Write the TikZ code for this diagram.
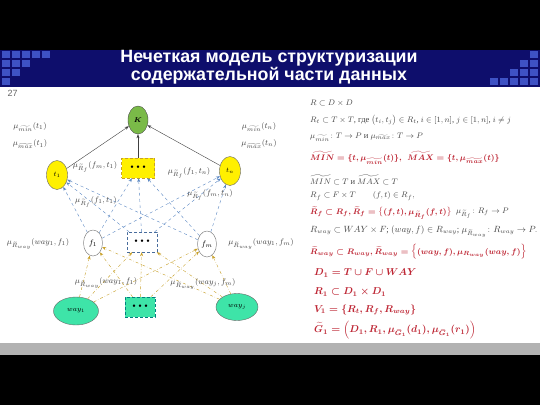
\documentclass[tikz,border=0pt]{standalone}
\usepackage{amsmath,amssymb}
\usepackage{fontspec}
\setmainfont{Liberation Serif}
\newfontfamily\titlefont{Liberation Sans}
\usetikzlibrary{shapes.geometric,arrows.meta}
\definecolor{bandblue}{RGB}{14,14,108}
\definecolor{sqblue}{RGB}{62,82,196}
\definecolor{graybar}{RGB}{178,178,178}
\definecolor{txtgray}{RGB}{70,70,70}
\definecolor{redf}{RGB}{190,38,52}
\definecolor{kgreen}{RGB}{122,186,72}
\definecolor{tyellow}{RGB}{255,240,0}
\definecolor{wteal}{RGB}{62,228,168}
\definecolor{lblue}{RGB}{90,135,195}
\definecolor{lgold}{RGB}{200,160,40}
\tikzset{
  sq/.style={fill=sqblue},
  kstyle/.style={ellipse,draw=black!70,fill=kgreen,minimum width=20,minimum height=28,inner sep=0pt,font=\fontsize{7}{8}\selectfont},
  tstyle/.style={ellipse,draw=black!60,fill=tyellow,minimum width=21,minimum height=29,inner sep=0pt,font=\fontsize{7}{8}\selectfont},
  fstyle/.style={ellipse,draw=black!55,fill=white,minimum width=19,minimum height=26,inner sep=0pt,font=\fontsize{8}{9}\selectfont},
  wstyle/.style={ellipse,draw=black!60,fill=wteal,minimum width=45,minimum height=28,inner sep=0pt,font=\fontsize{7}{8}\selectfont},
  ydots/.style={rectangle,draw=lgold,densely dashed,fill=tyellow,minimum width=33,minimum height=20,inner sep=0pt},
  wdots/.style={rectangle,draw=lblue!80!black,densely dashed,fill=white,minimum width=30,minimum height=20,inner sep=0pt},
  tdots/.style={rectangle,draw=teal,densely dashed,fill=wteal,minimum width=30,minimum height=20,inner sep=0pt},
  kline/.style={draw=black!75,-{Stealth[length=4pt,width=3pt]}},
  bline/.style={draw=lblue,dashed,thin,-{Stealth[length=4pt,width=3pt]}},
  gline/.style={draw=lgold,dash dot,thin,-{Stealth[length=4pt,width=3pt]}},
  elab/.style={text=txtgray,font=\fontsize{8}{9}\selectfont,inner sep=0pt},
  frm/.style={anchor=west,text=txtgray,font=\fontsize{8.5}{10}\selectfont,inner sep=0pt},
  frmr/.style={anchor=west,text=redf,font=\fontsize{8}{10}\selectfont\boldmath\bfseries,inner sep=0pt},
  frmR/.style={anchor=west,text=redf,font=\fontsize{10}{12}\selectfont\boldmath\bfseries,inner sep=0pt},
}
\newcommand{\dotsx}{\textbullet\ \textbullet\ \textbullet}
\newcommand{\tmin}{\widetilde{min}}
\newcommand{\tmax}{\widetilde{max}}
\begin{document}
\begin{tikzpicture}[x=1pt,y=-1pt]
\useasboundingbox (0,0) rectangle (540,405);
\fill[black] (0,0) rectangle (540,405);
\fill[white] (0,87) rectangle (540,343);
\fill[bandblue] (0,50) rectangle (540,87);
\fill[graybar] (0,343) rectangle (540,355);
% left squares
\foreach \i in {0,...,4} \fill[sq] (2+10*\i,51) rectangle +(8,7);
\foreach \i in {0,...,2} \fill[sq] (2+10*\i,60) rectangle +(8,7);
\foreach \i in {0,1} \fill[sq] (2+10*\i,69) rectangle +(8,7);
\fill[sq] (2,78) rectangle +(8,7);
% right squares
\fill[sq] (530,51) rectangle +(8,7);
\foreach \i in {0,1} \fill[sq] (530-10*\i,60) rectangle +(8,7);
\foreach \i in {0,...,2} \fill[sq] (530-10*\i,69) rectangle +(8,7);
\foreach \i in {0,...,4} \fill[sq] (530-10*\i,78) rectangle +(8,7);
% title
\node[text=white,font=\titlefont\bfseries\fontsize{17.8}{18.5}\selectfont,align=center] (title) at (269,67) {Нечеткая модель структуризации\\содержательной части данных};
\node[text=black!60,font=\titlefont\fontsize{9}{10}\selectfont,anchor=west] (pnum) at (4,93) {27};
% nodes
\node[kstyle] (K) at (138,120) {$\boldsymbol{K}$};
\node[tstyle] (t1) at (57,175) {$t_1$};
\node[ydots] (dy) at (138,168) {\dotsx};
\node[tstyle] (tn) at (230,171) {$t_n$};
\node[fstyle] (f1) at (93,243) {$f_1$};
\node[wdots] (dw) at (142,242) {\dotsx};
\node[fstyle] (fm) at (207,244) {$f_m$};
\node[wstyle] (w1) at (76,311) {$way_1$};
\node[tdots] (dt) at (140,307) {\dotsx};
\node[wstyle,minimum width=42,minimum height=27] (wj) at (237,307) {$way_j$};
% connectors
\draw[kline] (t1) -- (K);
\draw[kline] (dy) -- (K);
\draw[kline] (tn) -- (K);
\foreach \s in {f1,dw,fm}{
  \draw[bline] (\s) -- (t1);
  \draw[bline] (\s) -- (dy);
  \draw[bline] (\s) -- (tn);
}
\foreach \s in {w1,dt,wj}{
  \draw[gline] (\s) -- (f1);
  \draw[gline] (\s) -- (dw);
  \draw[gline] (\s) -- (fm);
}
% labels near t nodes
\node[elab] (l1) at (30,127) {$\mu_{\tmin}(t_1)$};
\node[elab] (l2) at (30,144) {$\mu_{\tmax}(t_1)$};
\node[elab] (l3) at (259,127) {$\mu_{\tmin}(t_n)$};
\node[elab] (l4) at (259,144) {$\mu_{\tmax}(t_n)$};
\node[elab] (e1) at (95,167) {$\mu_{\widetilde R_f}(f_m,t_1)$};
\node[elab] (e2) at (96,202) {$\mu_{\widetilde R_f}(f_1,t_1)$};
\node[elab] (e3) at (189,173) {$\mu_{\widetilde R_f}(f_1,t_n)$};
\node[elab] (e4) at (210,195) {$\mu_{\widetilde R_f}(f_m,t_n)$};
\node[elab] (e5) at (38,244) {$\mu_{\widetilde R_{way}}(way_1,f_1)$};
\node[elab] (e6) at (261,244) {$\mu_{\widetilde R_{way}}(way_1,f_m)$};
\node[elab] (e7) at (106,283) {$\mu_{\widetilde R_{way}}(way_1,f_1)$};
\node[elab] (e8) at (203,284) {$\mu_{\widetilde R_{way}}(way_j,f_m)$};
% formulas
\node[frm] (r1) at (310,103) {$R\subset D\times D$};
\node[frm] (r2) at (310,120) {$R_t\subset T\times T$, где $\bigl(t_i,t_j\bigr)\in R_t$, $i\in[1,n]$, $j\in[1,n]$, $i\neq j$};
\node[frm] (r3) at (310,137) {$\mu_{\tmin}\colon T\to P$ и $\mu_{\tmax}\colon T\to P$};
\node[frmr] (r4) at (310,158) {$\widetilde{MIN}=\{t,\mu_{\tmin}(t)\},\ \ \widetilde{MAX}=\{t,\mu_{\tmax}(t)\}$};
\node[frm] (r5) at (310,180) {$\widetilde{MIN}\subset T$ и $\widetilde{MAX}\subset T$};
\node[frm] (r6) at (310,196) {$R_f\subset F\times T\qquad (f,t)\in R_f,$};
\node[frmr] (r7) at (310,213) {$\widetilde R_f\subset R_f, \widetilde R_f=\bigl\{(f,t),\mu_{\widetilde R_f}(f,t)\bigr\}$};
\node[frm,xshift=4pt] (r7b) at (r7.east) {$\mu_{\widetilde R_f}\colon R_f\to P$};
\node[frm,font=\fontsize{8.8}{10}\selectfont] (r8) at (310,232) {$R_{way}\subset WAY\times F$; $(way,f)\in R_{way}$; $\mu_{\widetilde R_{way}}\colon R_{way}\to P.$};
\node[frmr,font=\fontsize{8.3}{10}\selectfont\boldmath\bfseries] (r9) at (310,252) {$\widetilde R_{way}\subset R_{way}, \widetilde R_{way}=\Bigl\{(way,f),\mu_{R_{way}}(way,f)\Bigr\}$};
\node[frmR] (r10) at (314,273) {$D_1=T\cup F\cup WAY$};
\node[frmR] (r11) at (314,292) {$R_1\subset D_1\times D_1$};
\node[frmR] (r12) at (314,310) {$V_1=\{R_t,R_f,R_{way}\}$};
\node[frmR] (r13) at (314,330) {$\widetilde G_1=\Bigl(D_1,R_1,\mu_{\widetilde G_1}(d_1),\mu_{\widetilde G_1}(r_1)\Bigr)$};
\end{tikzpicture}
\end{document}
